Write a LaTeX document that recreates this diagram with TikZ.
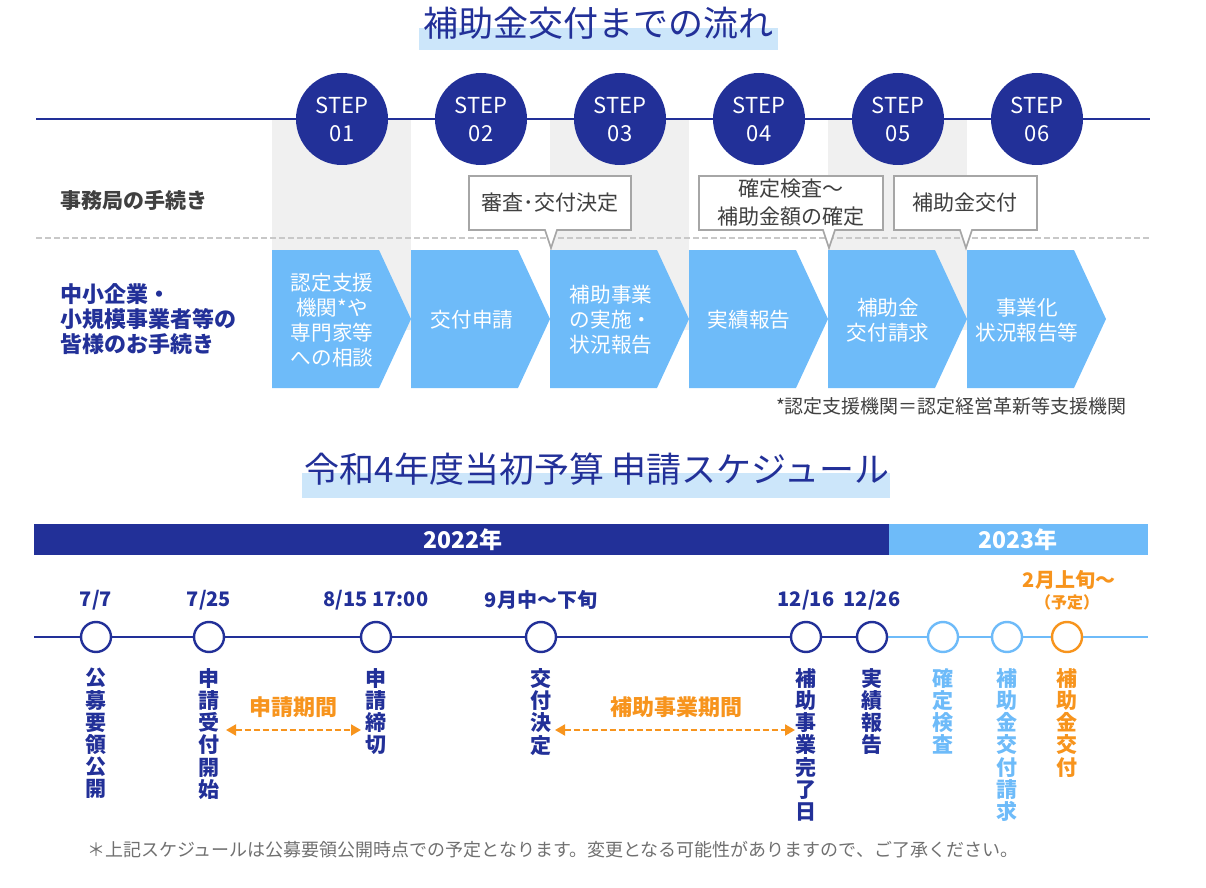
\documentclass[tikz,border=0pt]{standalone}
\usepackage{fontspec}
\setmainfont{Noto Sans CJK JP}
\usetikzlibrary{arrows.meta}

\definecolor{navy}{RGB}{34,48,152}
\definecolor{skyblue}{RGB}{110,187,249}
\definecolor{hilite}{RGB}{204,230,250}
\definecolor{colgray}{RGB}{240,240,240}
\definecolor{linegray}{RGB}{200,200,200}
\definecolor{boxgray}{RGB}{166,166,166}
\definecolor{textgray}{RGB}{64,64,64}
\definecolor{notegray}{RGB}{112,112,112}
\definecolor{amber}{RGB}{247,148,29}

\begin{document}
\begin{tikzpicture}[x=0.5pt,y=-0.5pt,
    stepdot/.style={circle,fill=navy,text=white,minimum size=46pt,inner sep=0pt,
        align=center,font=\fontsize{11}{14}\selectfont},
    chevtext/.style={text=white,align=center,font=\fontsize{10.3}{12.5}\selectfont},
    callout/.style={draw=boxgray,fill=white,line width=0.8pt,line join=miter},
    calltext/.style={text=textgray,align=center,font=\fontsize{10.5}{14}\selectfont},
    event/.style={circle,draw=#1,fill=white,line width=1.2pt,minimum size=15pt,inner sep=0pt},
    datelabel/.style={text=navy,font=\fontsize{10}{12}\bfseries\selectfont},
    vlabel/.style={text=#1,align=center,anchor=north,inner sep=0pt,
        font=\fontsize{10.5}{11.1}\bfseries\selectfont},
    period/.style={amber,line width=1pt,dash pattern=on 3pt off 1.5pt,
        {Triangle[length=5pt,width=5.5pt]}-{Triangle[length=5pt,width=5.5pt]}},
    periodlabel/.style={text=amber,font=\fontsize{11}{13}\bfseries\selectfont}]

    % Fix the page to the reference size
    \useasboundingbox (0,0) rectangle (1206,888);

    % Title of the upper part
    \fill[hilite] (419,28) rectangle (778,50);
    \node[text=navy,font=\fontsize{17.5}{20}\selectfont] (title1) at (598,23) {補助金交付までの流れ};

    % Gray columns behind steps 01, 03 and 05
    \foreach \i in {0,2,4}
        \fill[colgray] (272+139*\i,119) rectangle (411+139*\i,330);

    % Line through the step circles
    \coordinate (L0) at (36,119);
    \coordinate (L1) at (1150,119);
    \draw[navy,line width=1pt] (L0) -- (L1);

    % Step circles
    \foreach \i in {1,...,6}
        \node[stepdot] (s\i) at (272+139*\i-69,119) {STEP\\0\i};

    % Dashed line between the two rows
    \coordinate (D0) at (36,238);
    \coordinate (D1) at (1150,238);
    \draw[linegray,line width=0.8pt,dash pattern=on 3pt off 1.5pt] (D0) -- (D1);

    % Row labels
    \node[anchor=west,text=textgray,font=\fontsize{10.5}{12}\bfseries\selectfont] (office) at (53,201) {事務局の手続き};
    \node[anchor=west,align=left,text=navy,font=\fontsize{11}{12.5}\bfseries\selectfont] (firms) at (53,319)
        {中小企業・\\小規模事業者等の\\皆様のお手続き};

    % Callouts of the office row
    \draw[callout] (469,176) -- (631,176) -- (631,230) -- (557,230) -- (551,248) -- (545,230) -- (469,230) -- cycle;
    \node[calltext] (c1) at (550,203) {審査･交付決定};
    \draw[callout] (699,176) -- (883,176) -- (883,230) -- (835,230) -- (829,248) -- (823,230) -- (699,230) -- cycle;
    \node[calltext] (c2) at (791,203) {確定検査～\\補助金額の確定};
    \draw[callout] (894,176) -- (1037,176) -- (1037,230) -- (972,230) -- (966,248) -- (960,230) -- (894,230) -- cycle;
    \node[calltext] (c3) at (965,203) {補助金交付};

    % Chevrons of the firms row
    \foreach \i in {1,...,6}
        \fill[skyblue] (272+139*\i-139,250) -- ++(107,0) -- ++(32,69) -- ++(-32,69) -- ++(-107,0) -- cycle;
    \node[chevtext] (k1) at (332,320) {認定支援\\機関*や\\専門家等\\への相談};
    \node[chevtext] (k2) at (472,320) {交付申請};
    \node[chevtext] (k3) at (611,320) {補助事業\\の実施・\\状況報告};
    \node[chevtext] (k4) at (749,320) {実績報告};
    \node[chevtext] (k5) at (888,320) {補助金\\交付請求};
    \node[chevtext] (k6) at (1027,320) {事業化\\状況報告等};

    % Footnote of the upper part
    \node[anchor=east,text=textgray,font=\fontsize{9.5}{11}\selectfont] (foot) at (1134,406) {*認定支援機関＝認定経営革新等支援機関};

    % Title of the lower part
    \fill[hilite] (302,473) rectangle (890,498);
    \node[text=navy,font=\fontsize{17.5}{20}\selectfont] (title2) at (597,469) {令和4年度当初予算 申請スケジュール};

    % Year bars
    \fill[navy] (34,524) rectangle (889,555);
    \fill[skyblue] (889,524) rectangle (1148,555);
    \node[text=white,font=\fontsize{11.5}{13}\bfseries\selectfont] (y22) at (463,540) {2022年};
    \node[text=white,font=\fontsize{11.5}{13}\bfseries\selectfont] (y23) at (1018,540) {2023年};

    % Timeline
    \coordinate (T0) at (34,637);
    \coordinate (T1) at (1148,637);
    \coordinate (e6) at (872,637);
    \draw[navy,line width=1pt] (T0) -- (e6);
    \draw[skyblue,line width=1pt] (e6) -- (T1);

    % Events on the timeline
    \node[event=navy] (d1) at (96,637) {};
    \node[event=navy] (d2) at (209,637) {};
    \node[event=navy] (d3) at (376,637) {};
    \node[event=navy] (d4) at (541,637) {};
    \node[event=navy] (d5) at (806,637) {};
    \node[event=navy] (d6) at (e6) {};
    \node[event=skyblue] (d7) at (943,637) {};
    \node[event=skyblue] (d8) at (1007,637) {};
    \node[event=amber] (d9) at (1067,637) {};

    % Dates above the events
    \node[datelabel] at (96,600) {7/7};
    \node[datelabel] at (209,600) {7/25};
    \node[datelabel] at (376,600) {8/15 17:00};
    \node[datelabel] at (541,600) {9月中～下旬};
    \node[datelabel] at (806,600) {12/16};
    \node[datelabel] at (872,600) {12/26};
    \node[datelabel,text=amber] at (1069,580) {2月上旬～};
    \node[text=amber,font=\fontsize{8}{9}\bfseries\selectfont] at (1067,602) {（予定）};

    % Vertical labels below the events
    \node[vlabel=navy] (v1) at (96,668) {公\\募\\要\\領\\公\\開};
    \node[vlabel=navy] (v2) at (209,668) {申\\請\\受\\付\\開\\始};
    \node[vlabel=navy] (v3) at (376,668) {申\\請\\締\\切};
    \node[vlabel=navy] (v4) at (541,668) {交\\付\\決\\定};
    \node[vlabel=navy] (v5) at (806,668) {補\\助\\事\\業\\完\\了\\日};
    \node[vlabel=navy] (v6) at (872,668) {実\\績\\報\\告};
    \node[vlabel=skyblue] (v7) at (943,668) {確\\定\\検\\査};
    \node[vlabel=skyblue] (v8) at (1007,668) {補\\助\\金\\交\\付\\請\\求};
    \node[vlabel=amber] (v9) at (1067,668) {補\\助\\金\\交\\付};

    % Periods between the events
    \coordinate (a1) at (226,730);
    \coordinate (a2) at (361,730);
    \draw[period] (a1) -- (a2);
    \node[periodlabel] (p1) at (293,707) {申請期間};
    \coordinate (b1) at (555,730);
    \coordinate (b2) at (795,730);
    \draw[period] (b1) -- (b2);
    \node[periodlabel] (p2) at (676,707) {補助事業期間};

    % Note at the bottom
    \node[anchor=west,text=notegray,font=\fontsize{9}{11}\selectfont] (note) at (80,850)
        {＊上記スケジュールは公募要領公開時点での予定となります。変更となる可能性がありますので、ご了承ください。};

\end{tikzpicture}
\end{document}
